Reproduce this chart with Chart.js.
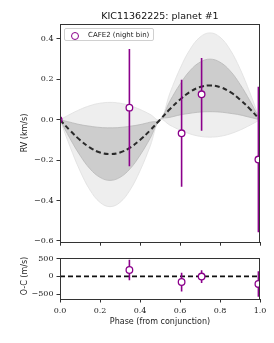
<!DOCTYPE html>
<html>
<head>
<meta charset="utf-8">
<script src="https://cdn.jsdelivr.net/npm/chart.js@4.4.1/dist/chart.umd.min.js"></script>
<style>
  body { margin: 0; background: #fff; width: 274px; height: 343px; overflow: hidden; position: relative; font-family: "DejaVu Sans", sans-serif; }
  #top { position: absolute; left: 0; top: 0; }
  #bot { position: absolute; left: 0; top: 250px; }
  .lbl { position: absolute; font-size: 8px; color: #222; white-space: nowrap; }
  .rot { transform: translate(-50%, -50%) rotate(-90deg); }
  #title { position: absolute; left: 160px; top: 15px; transform: translate(-50%, -50%); font-size: 9.5px; color: #111; white-space: nowrap; }
  #legend { position: absolute; left: 64px; top: 28px; width: 90px; height: 13px; border: 1px solid #d0d0d0; border-radius: 2px; background: rgba(255,255,255,0.85); box-sizing: border-box; }
  #legend .mk { position: absolute; left: 6px; top: 2.5px; width: 6px; height: 6px; border: 1.3px solid #8b008b; border-radius: 50%; background: #fff; }
  #legend .tx { position: absolute; left: 23px; top: 1.5px; font-size: 7px; color: #222; white-space: nowrap; }
</style>
</head>
<body>
<canvas id="top" width="274" height="250"></canvas>
<canvas id="bot" width="274" height="93"></canvas>
<div id="title">KIC11362225: planet #1</div>
<div id="legend"><span class="mk"></span><span class="tx">CAFE2 (night bin)</span></div>
<div class="lbl rot" style="left:24px; top:133px;">RV (km/s)</div>
<div class="lbl rot" style="left:24px; top:276px;">O-C (m/s)</div>
<div class="lbl" style="left:160px; top:321px; transform: translate(-50%, -50%);">Phase (from conjunction)</div>
<script>
// ==========
// DATA
// ==========

// model grid (phase) and curves, km/s
var modelPhase = [0, 0.05, 0.1, 0.15, 0.2, 0.25, 0.3, 0.35, 0.4, 0.45, 0.5,
                  0.55, 0.6, 0.65, 0.7, 0.75, 0.8, 0.85, 0.9, 0.95, 1.0];
var modelRV    = [0, -0.053, -0.100, -0.138, -0.162, -0.170, -0.162, -0.138, -0.100, -0.053, 0,
                  0.053, 0.100, 0.138, 0.162, 0.170, 0.162, 0.138, 0.100, 0.053, 0];
var darkUpper  = [0, -0.012, -0.024, -0.032, -0.038, -0.040, -0.038, -0.032, -0.024, -0.012, 0,
                  0.093, 0.176, 0.243, 0.285, 0.300, 0.285, 0.243, 0.176, 0.093, 0];
var darkLower  = [0, -0.093, -0.176, -0.243, -0.285, -0.300, -0.285, -0.243, -0.176, -0.093, 0,
                  0.012, 0.024, 0.032, 0.038, 0.040, 0.038, 0.032, 0.024, 0.012, 0];
var lightUpper = [0, 0.027, 0.051, 0.070, 0.082, 0.086, 0.082, 0.070, 0.051, 0.027, 0,
                  0.133, 0.253, 0.348, 0.409, 0.430, 0.409, 0.348, 0.253, 0.133, 0];
var lightLower = [0, -0.133, -0.253, -0.348, -0.409, -0.430, -0.409, -0.348, -0.253, -0.133, 0,
                  -0.027, -0.051, -0.070, -0.082, -0.086, -0.082, -0.070, -0.051, -0.027, 0];

// CAFE2 night-binned points
var obsPhase = [0.347, 0.608, 0.708, 0.992];
var obsRV    = [0.060, -0.067, 0.126, -0.197];   // km/s
var obsErr   = [0.290, 0.265, 0.180, 0.360];     // km/s
var resid    = [180, -160, -5, -215];            // m/s
var residErr = [290, 265, 180, 360];             // m/s

// point clipped at left edge
var edgePhase = [-0.007];
var edgeRV    = [0.0];

// ticks
var xTicks = [0, 0.2, 0.4, 0.6, 0.8, 1.0];
var rvTicks = [-0.6, -0.4, -0.2, 0.0, 0.2, 0.4];
var ocTicks = [-500, 0, 500];

// ==========
// HELPERS
// ==========
var PURPLE = '#8b008b';
var tickFont = { family: 'DejaVu Serif', size: 8 };

function pts(xs, ys) {
    return xs.map(function (x, i) { return { x: x, y: ys[i] }; });
}

function fmtNum(v, dec) {
    var s = Math.abs(v).toFixed(dec);
    return (v < -1e-9 ? '\u2212' : '') + s;
}

// lower "order" = drawn on top
function errorBars(xs, ys, es) {
    return xs.map(function (x, i) {
        return {
            type: 'line',
            data: [{ x: x, y: ys[i] - es[i] }, { x: x, y: ys[i] + es[i] }],
            borderColor: PURPLE,
            borderWidth: 1.6,
            pointRadius: 0,
            fill: false,
            clip: 0,
            order: 1
        };
    });
}

// draws the axes box
var framePlugin = {
    id: 'frame',
    afterDatasetsDraw: function (chart) {
        var a = chart.chartArea, c = chart.ctx;
        c.save();
        c.strokeStyle = '#333';
        c.lineWidth = 1;
        c.strokeRect(Math.round(a.left) + 0.5, Math.round(a.top) + 0.5,
                     Math.round(a.right - a.left) - 1, Math.round(a.bottom - a.top));
        c.restore();
    }
};

function xScale(showLabels, height) {
    return {
        type: 'linear', min: 0, max: 1,
        afterBuildTicks: function (s) { s.ticks = xTicks.map(function (v) { return { value: v }; }); },
        afterFit: function (s) { s.height = height; },
        grid: { drawOnChartArea: false, drawTicks: true, tickLength: 3.5, color: '#333' },
        border: { display: false },
        ticks: { display: showLabels, padding: 3.5, font: tickFont, color: '#222', maxRotation: 0,
                 callback: function (v) { return fmtNum(v, 1); } }
    };
}

function yScale(min, max, tickVals, dec) {
    return {
        type: 'linear', min: min, max: max,
        afterBuildTicks: function (s) { s.ticks = tickVals.map(function (v) { return { value: v }; }); },
        afterFit: function (s) { s.width = 60; },
        grid: { drawOnChartArea: false, tickLength: 3.5, color: '#333' },
        border: { display: false },
        ticks: { padding: 3, font: tickFont, color: '#222',
                 callback: function (v) { return fmtNum(v, dec); } }
    };
}

// ==========
// TOP PANEL
// ==========
var topSets = [
    { type: 'line', data: pts(modelPhase, lightUpper), borderColor: '#e0e0e0', borderWidth: 0.8,
      backgroundColor: '#eeeeee', fill: '+1', pointRadius: 0, tension: 0.4, order: 6 },
    { type: 'line', data: pts(modelPhase, lightLower), borderColor: '#e0e0e0', borderWidth: 0.8,
      pointRadius: 0, fill: false, tension: 0.4, order: 5 },
    { type: 'line', data: pts(modelPhase, darkUpper), borderColor: '#b8b8b8', borderWidth: 0.8,
      backgroundColor: '#cdcdcd', fill: '+1', pointRadius: 0, tension: 0.4, order: 4 },
    { type: 'line', data: pts(modelPhase, darkLower), borderColor: '#b8b8b8', borderWidth: 0.8,
      pointRadius: 0, fill: false, tension: 0.4, order: 3 },
    { type: 'line', data: pts(modelPhase, modelRV), borderColor: '#2a2a2a', borderWidth: 2,
      borderDash: [5, 3], pointRadius: 0, fill: false, tension: 0.4, order: 2 }
].concat(errorBars(obsPhase, obsRV, obsErr)).concat([
    { type: 'scatter', data: pts(obsPhase, obsRV), pointRadius: 3.3, pointBorderWidth: 1.3,
      pointBorderColor: PURPLE, pointBackgroundColor: '#fff', clip: 0, order: 0 },
    { type: 'scatter', data: pts(edgePhase, edgeRV), pointRadius: 3.3, pointBorderWidth: 1.3,
      pointBorderColor: PURPLE, pointBackgroundColor: '#fff', clip: 0, order: 0 }
]);

new Chart(document.getElementById('top'), {
    type: 'line',
    data: { datasets: topSets },
    options: {
        responsive: false, animation: false, events: [],
        layout: { padding: { top: 24, right: 14, left: 0, bottom: 0 } },
        plugins: { legend: { display: false }, tooltip: { enabled: false } },
        scales: {
            x: xScale(false, 4),
            y: yScale(-0.606, 0.474, rvTicks, 1)
        }
    },
    plugins: [framePlugin]
});

// ==========
// BOTTOM PANEL (residuals)
// ==========
var botSets = [
    { type: 'line', data: pts([0, 1], [0, 0]), borderColor: '#111', borderWidth: 1.6,
      borderDash: [5, 3], pointRadius: 0, fill: false, order: 2 }
].concat(errorBars(obsPhase, resid, residErr)).concat([
    { type: 'scatter', data: pts(obsPhase, resid), pointRadius: 3.3, pointBorderWidth: 1.3,
      pointBorderColor: PURPLE, pointBackgroundColor: '#fff', clip: 0, order: 0 }
]);

new Chart(document.getElementById('bot'), {
    type: 'line',
    data: { datasets: botSets },
    options: {
        responsive: false, animation: false, events: [],
        layout: { padding: { top: 3, right: 14, left: 0, bottom: 0 } },
        plugins: { legend: { display: false }, tooltip: { enabled: false } },
        scales: {
            x: xScale(true, 44),
            y: yScale(-640, 525, ocTicks, 0)
        }
    },
    plugins: [framePlugin]
});
</script>
</body>
</html>
